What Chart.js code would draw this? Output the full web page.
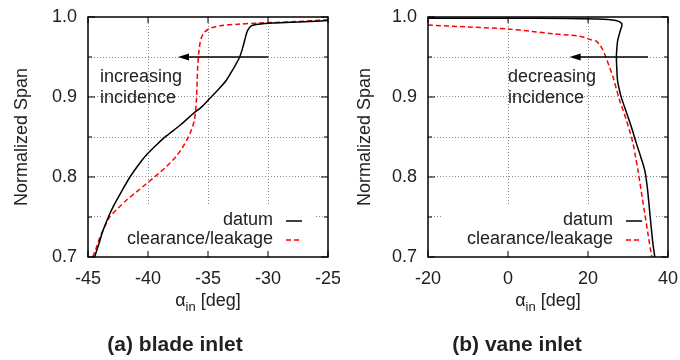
<!DOCTYPE html>
<html>
<head>
<meta charset="utf-8">
<script src="https://cdn.jsdelivr.net/npm/chart.js@4"></script>
<style>
body { margin: 0; width: 680px; height: 360px; background: #fff; position: relative; overflow: hidden;
       font-family: "Liberation Sans", Arial, sans-serif; color: #222; }
canvas { position: absolute; top: 0; }
.xtitle { position: absolute; top: 290px; width: 240px; text-align: center; font-size: 18px; line-height: 20px; }
.xtitle sub { font-size: 13px; vertical-align: -5px; line-height: 0; }
.caption { position: absolute; top: 332px; width: 340px; text-align: center; font-weight: bold; font-size: 21px; }
</style>
</head>
<body>
<canvas id="bladeChart" width="340" height="360" style="left:0"></canvas>
<canvas id="vaneChart" width="340" height="360" style="left:340px"></canvas>
<div class="xtitle" style="left:88px">&alpha;<sub>in</sub> [deg]</div>
<div class="xtitle" style="left:428px">&alpha;<sub>in</sub> [deg]</div>
<div class="caption" style="left:5px">(a) blade inlet</div>
<div class="caption" style="left:347px">(b) vane inlet</div>
<script>
// (a) blade inlet
const bladeDatumAlpha = [-44.45, -44.1, -43.75, -43.3, -42.9, -42.2, -41.5, -40.8, -40.1, -39.3, -38.5, -37.3, -36.25, -35.5, -34.86, -34.1, -33.47, -32.9, -32.36, -32.1, -31.94, -31.8, -31.67, -31.4, -30.8, -29.6, -27, -25];
const bladeDatumSpan  = [0.700, 0.716, 0.733, 0.750, 0.763, 0.782, 0.800, 0.815, 0.828, 0.840, 0.851, 0.865, 0.879, 0.888, 0.898, 0.910, 0.921, 0.935, 0.950, 0.962, 0.971, 0.979, 0.984, 0.989, 0.991, 0.9925, 0.994, 0.9955];
const bladeLeakAlpha  = [-44.6, -44.3, -44.0, -43.6, -43.2, -42.5, -41.8, -40.9, -40.1, -39.3, -38.5, -37.7, -37.1, -36.7, -36.4, -36.15, -36.03, -35.95, -35.9, -35.85, -35.75, -35.6, -35.3, -34.8, -34.0, -32.5, -30.7, -28, -25];
const bladeLeakSpan   = [0.700, 0.712, 0.725, 0.738, 0.750, 0.761, 0.771, 0.782, 0.792, 0.802, 0.8125, 0.825, 0.8375, 0.848, 0.858, 0.870, 0.883, 0.900, 0.921, 0.940, 0.958, 0.972, 0.981, 0.986, 0.989, 0.991, 0.9925, 0.994, 0.9965];
const bladeArrow = [[-30, 0.95], [-37.5, 0.95]];
const bladeNote = ["increasing", "incidence"];

// (b) vane inlet
const vaneDatumAlpha = [-20, 0, 15, 22, 25, 27, 28.2, 28.5, 28.2, 27.8, 27.4, 27.2, 27.1, 27.2, 27.4, 27.8, 28.3, 29.1, 30.0, 31.0, 32.1, 33.2, 34.2, 34.7, 35.0, 35.4, 35.8, 36.2, 36.7];
const vaneDatumSpan  = [0.9985, 0.9985, 0.998, 0.9975, 0.997, 0.9955, 0.993, 0.990, 0.985, 0.978, 0.970, 0.960, 0.950, 0.935, 0.920, 0.910, 0.900, 0.888, 0.875, 0.860, 0.842, 0.825, 0.808, 0.792, 0.779, 0.758, 0.7375, 0.718, 0.700];
const vaneLeakAlpha  = [-20, -10, 0, 6, 11.25, 15, 17.9, 19.5, 20.4, 22.0, 22.8, 23.6, 24.6, 25.4, 26.25, 27.1, 27.9, 28.8, 29.6, 30.5, 31.25, 31.9, 32.5, 33.0, 33.6, 34.2, 35.0, 35.8, 36.0];
const vaneLeakSpan   = [0.990, 0.9875, 0.985, 0.982, 0.979, 0.9775, 0.976, 0.974, 0.972, 0.970, 0.966, 0.960, 0.948, 0.937, 0.925, 0.910, 0.896, 0.883, 0.871, 0.856, 0.842, 0.825, 0.808, 0.792, 0.773, 0.754, 0.729, 0.704, 0.700];
const vaneArrow = [[35, 0.95], [15.4, 0.95]];
const vaneNote = ["decreasing", "incidence"];

const seriesNames = ["datum", "clearance/leakage"];
const spanTicks = [0.7, 0.8, 0.9, 1.0];

Chart.defaults.font.family = '"Liberation Sans", Arial, sans-serif';
Chart.defaults.font.size = 18;
Chart.defaults.color = "#222";

function toPoints(xs, ys) {
    return xs.map((x, i) => ({ x: x, y: ys[i] }));
}

// no extra room for overhanging tick labels, layout padding decides the plot box
function noScalePadding(s) {
    s.paddingLeft = 0; s.paddingRight = 0; s.paddingTop = 0; s.paddingBottom = 0;
}

// gnuplot-like frame, inner ticks, arrow, labels and key
const gnuplotStyle = {
    id: "gnuplotStyle",
    beforeDatasetsDraw(chart, args, opts) {
        const a = chart.chartArea;
        const ctx = chart.ctx;
        ctx.save();
        ctx.fillStyle = "#fff";
        ctx.fillRect(a.left + 15, a.top + 188, 212, a.bottom - a.top - 188);
        ctx.restore();
    },
    afterDatasetsDraw(chart, args, opts) {
        const a = chart.chartArea;
        const ctx = chart.ctx;
        const xs = chart.scales.x, ys = chart.scales.y;
        ctx.save();

        // frame
        ctx.strokeStyle = "#000";
        ctx.lineWidth = 1.5;
        ctx.strokeRect(a.left, a.top, a.right - a.left, a.bottom - a.top);

        // inner ticks, mirrored
        ctx.lineWidth = 1;
        xs.ticks.forEach(t => {
            const px = xs.getPixelForValue(t.value);
            ctx.beginPath();
            ctx.moveTo(px, a.bottom); ctx.lineTo(px, a.bottom - 6);
            ctx.moveTo(px, a.top); ctx.lineTo(px, a.top + 6);
            ctx.stroke();
        });
        ys.ticks.forEach(t => {
            const py = ys.getPixelForValue(t.value);
            const len = t.label ? 7 : 4;
            ctx.beginPath();
            ctx.moveTo(a.left, py); ctx.lineTo(a.left + len, py);
            ctx.moveTo(a.right, py); ctx.lineTo(a.right - len, py);
            ctx.stroke();
        });

        // arrow
        const x0 = xs.getPixelForValue(opts.arrow[0][0]), y0 = ys.getPixelForValue(opts.arrow[0][1]);
        const x1 = xs.getPixelForValue(opts.arrow[1][0]), y1 = ys.getPixelForValue(opts.arrow[1][1]);
        ctx.strokeStyle = "#000";
        ctx.fillStyle = "#000";
        ctx.lineWidth = 1.5;
        ctx.beginPath();
        ctx.moveTo(x0, y0); ctx.lineTo(x1 + 8, y1);
        ctx.stroke();
        ctx.beginPath();
        ctx.moveTo(x1, y1); ctx.lineTo(x1 + 11, y1 - 3.5); ctx.lineTo(x1 + 11, y1 + 3.5);
        ctx.closePath();
        ctx.fill();

        // annotation
        ctx.fillStyle = "#222";
        ctx.font = '18px "Liberation Sans", Arial, sans-serif';
        ctx.textAlign = "left";
        ctx.textBaseline = "middle";
        ctx.fillText(opts.note[0], a.left + opts.noteX, a.top + 60);
        ctx.fillText(opts.note[1], a.left + opts.noteX, a.top + 81);

        // key
        ctx.textAlign = "right";
        const keyY = [a.top + 203, a.top + 222];
        chart.data.datasets.forEach((ds, i) => {
            ctx.fillStyle = "#222";
            ctx.fillText(ds.label, a.left + 185, keyY[i]);
            ctx.strokeStyle = ds.borderColor;
            ctx.lineWidth = 1.5;
            ctx.setLineDash(ds.borderDash || []);
            ctx.beginPath();
            ctx.moveTo(a.left + 198, keyY[i] + 1);
            ctx.lineTo(a.left + 214, keyY[i] + 1);
            ctx.stroke();
            ctx.setLineDash([]);
        });
        ctx.restore();
    }
};

function makeChart(id, xMin, xMax, xStep, datum, leak, arrow, note, noteX, titlePad) {
    return new Chart(document.getElementById(id), {
        type: "scatter",
        data: {
            datasets: [
                { label: seriesNames[0], data: datum, showLine: true, pointRadius: 0,
                  borderColor: "#000", borderWidth: 1.5, tension: 0.3 },
                { label: seriesNames[1], data: leak, showLine: true, pointRadius: 0,
                  borderColor: "#ff0000", borderWidth: 1.5, borderDash: [5, 3], tension: 0.3 }
            ]
        },
        options: {
            responsive: false,
            animation: false,
            devicePixelRatio: 1,
            events: [],
            layout: { padding: { top: 17, right: 12, left: 0, bottom: 0 } },
            plugins: {
                legend: { display: false },
                tooltip: { enabled: false },
                gnuplotStyle: { arrow: arrow, note: note, noteX: noteX }
            },
            scales: {
                x: {
                    type: "linear", min: xMin, max: xMax,
                    ticks: { stepSize: xStep, padding: 11, maxRotation: 0, autoSkip: false, color: "#222" },
                    grid: { drawTicks: false, lineWidth: 1,
                            color: c => (c.index === 0 || c.index === c.scale.ticks.length - 1) ? "rgba(0,0,0,0)" : "#888" },
                    border: { display: false, dash: [1, 2] },
                    afterFit: s => { s.height = 103; noScalePadding(s); }
                },
                y: {
                    type: "linear", min: 0.7, max: 1.0,
                    ticks: { stepSize: 0.05, padding: 11, autoSkip: false, color: "#222",
                             callback: v => spanTicks.some(t => Math.abs(t - v) < 1e-6) ? v.toFixed(1) : "" },
                    grid: { drawTicks: false, lineWidth: 1,
                            color: c => (c.index === 0 || c.index === c.scale.ticks.length - 1) ? "rgba(0,0,0,0)" : "#888" },
                    border: { display: false, dash: [1, 2] },
                    title: { display: true, text: "Normalized Span", color: "#222", font: { size: 18 },
                             padding: { top: titlePad, bottom: 0 } },
                    afterFit: s => { s.width = 88; noScalePadding(s); }
                }
            }
        },
        plugins: [gnuplotStyle]
    });
}

makeChart("bladeChart", -45, -25, 5,
    toPoints(bladeDatumAlpha, bladeDatumSpan), toPoints(bladeLeakAlpha, bladeLeakSpan),
    bladeArrow, bladeNote, 12, 11);
makeChart("vaneChart", -20, 40, 20,
    toPoints(vaneDatumAlpha, vaneDatumSpan), toPoints(vaneLeakAlpha, vaneLeakSpan),
    vaneArrow, vaneNote, 80, 14);
</script>
</body>
</html>
